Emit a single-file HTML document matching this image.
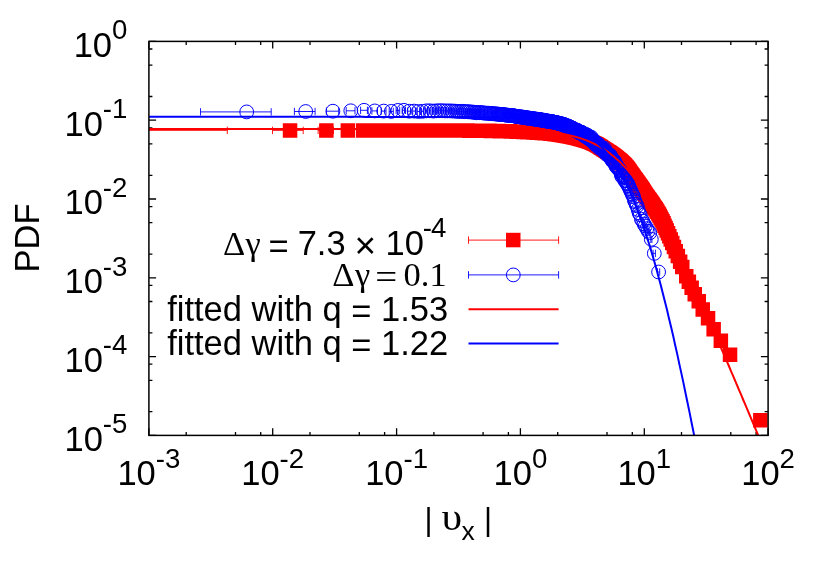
<!DOCTYPE html>
<html lang="en"><head><meta charset="utf-8"><title>PDF</title>
<style>html,body{margin:0;padding:0;background:#fff}svg{display:block}text{font-family:"Liberation Sans",sans-serif;fill:#000}.s{font-family:"Liberation Serif",serif}</style></head><body>
<svg style="will-change:transform" width="830" height="581" viewBox="0 0 830 581">
<rect width="830" height="581" fill="#fff"/>
<path d="M148.9 435.4V428.2 M148.9 41.4V48.6 M148.9 41.4H156.1 M768.1 41.4H760.9 M186.2 435.4V431.9 M186.2 41.4V44.9 M148.9 96.5H152.4 M768.1 96.5H764.6 M235.5 435.4V431.9 M235.5 41.4V44.9 M148.9 65.1H152.4 M768.1 65.1H764.6 M260.7 435.4V431.9 M260.7 41.4V44.9 M148.9 49H152.4 M768.1 49H764.6 M272.7 435.4V428.2 M272.7 41.4V48.6 M148.9 120.2H156.1 M768.1 120.2H760.9 M310 435.4V431.9 M310 41.4V44.9 M148.9 175.3H152.4 M768.1 175.3H764.6 M359.3 435.4V431.9 M359.3 41.4V44.9 M148.9 143.9H152.4 M768.1 143.9H764.6 M384.6 435.4V431.9 M384.6 41.4V44.9 M148.9 127.8H152.4 M768.1 127.8H764.6 M396.6 435.4V428.2 M396.6 41.4V48.6 M148.9 199H156.1 M768.1 199H760.9 M433.9 435.4V431.9 M433.9 41.4V44.9 M148.9 254.1H152.4 M768.1 254.1H764.6 M483.1 435.4V431.9 M483.1 41.4V44.9 M148.9 222.7H152.4 M768.1 222.7H764.6 M508.4 435.4V431.9 M508.4 41.4V44.9 M148.9 206.6H152.4 M768.1 206.6H764.6 M520.4 435.4V428.2 M520.4 41.4V48.6 M148.9 277.8H156.1 M768.1 277.8H760.9 M557.7 435.4V431.9 M557.7 41.4V44.9 M148.9 332.9H152.4 M768.1 332.9H764.6 M607 435.4V431.9 M607 41.4V44.9 M148.9 301.5H152.4 M768.1 301.5H764.6 M632.3 435.4V431.9 M632.3 41.4V44.9 M148.9 285.4H152.4 M768.1 285.4H764.6 M644.3 435.4V428.2 M644.3 41.4V48.6 M148.9 356.6H156.1 M768.1 356.6H760.9 M681.5 435.4V431.9 M681.5 41.4V44.9 M148.9 411.7H152.4 M768.1 411.7H764.6 M730.8 435.4V431.9 M730.8 41.4V44.9 M148.9 380.3H152.4 M768.1 380.3H764.6 M756.1 435.4V431.9 M756.1 41.4V44.9 M148.9 364.2H152.4 M768.1 364.2H764.6 M768.1 435.4V428.2 M768.1 41.4V48.6 M148.9 435.4H156.1 M768.1 435.4H760.9" stroke="#000" stroke-width="1.3" fill="none"/>
<clipPath id="c"><rect x="148.9" y="41.4" width="619.2" height="394"/></clipPath>
<path d="M148.9 130.4H227.3 M227.3 126.7V134.1 M272.5 130.4H303.2 M272.5 126.7V134.1 M303.2 126.7V134.1 M318.1 130.4H333.5 M318.1 126.7V134.1 M333.5 126.7V134.1" stroke="#f00" stroke-width="0.9" fill="none"/>
<path d="M282.8 123.2h14.5v14.5h-14.5zM319.1 123.2h14.5v14.5h-14.5zM340.6 123.2h14.5v14.5h-14.5zM355.9 123.2h14.5v14.5h-14.5zM367.8 123.2h14.5v14.5h-14.5zM377.5 123.2h14.5v14.5h-14.5zM385.8 123.2h14.5v14.5h-14.5zM392.9 123.2h14.5v14.5h-14.5zM399.2 123.2h14.5v14.5h-14.5zM404.9 123.2h14.5v14.5h-14.5zM410 123.2h14.5v14.5h-14.5zM414.6 123.2h14.5v14.5h-14.5zM418.9 123.2h14.5v14.5h-14.5zM422.9 123.2h14.5v14.5h-14.5zM426.6 123.2h14.5v14.5h-14.5zM430.1 123.2h14.5v14.5h-14.5zM433.3 123.2h14.5v14.5h-14.5zM436.4 123.2h14.5v14.5h-14.5zM439.3 123.2h14.5v14.5h-14.5zM442 123.2h14.5v14.5h-14.5zM444.7 123.2h14.5v14.5h-14.5zM447.2 123.2h14.5v14.5h-14.5zM449.6 123.2h14.5v14.5h-14.5zM451.9 123.2h14.5v14.5h-14.5zM454 123.3h14.5v14.5h-14.5zM456.2 123.3h14.5v14.5h-14.5zM458.2 123.3h14.5v14.5h-14.5zM460.2 123.3h14.5v14.5h-14.5zM462.1 123.4h14.5v14.5h-14.5zM463.9 123.4h14.5v14.5h-14.5zM465.7 123.4h14.5v14.5h-14.5zM467.4 123.4h14.5v14.5h-14.5zM469 123.4h14.5v14.5h-14.5zM470.7 123.5h14.5v14.5h-14.5zM472.2 123.5h14.5v14.5h-14.5zM473.8 123.5h14.5v14.5h-14.5zM475.2 123.5h14.5v14.5h-14.5zM476.7 123.6h14.5v14.5h-14.5zM478.1 123.6h14.5v14.5h-14.5zM479.5 123.6h14.5v14.5h-14.5zM480.8 123.6h14.5v14.5h-14.5zM482.1 123.6h14.5v14.5h-14.5zM483.4 123.7h14.5v14.5h-14.5zM484.6 123.7h14.5v14.5h-14.5zM485.9 123.7h14.5v14.5h-14.5zM487.1 123.7h14.5v14.5h-14.5zM488.2 123.8h14.5v14.5h-14.5zM489.4 123.8h14.5v14.5h-14.5zM490.5 123.8h14.5v14.5h-14.5zM491.6 123.8h14.5v14.5h-14.5zM492.7 123.9h14.5v14.5h-14.5zM493.8 123.9h14.5v14.5h-14.5zM494.8 123.9h14.5v14.5h-14.5zM495.8 123.9h14.5v14.5h-14.5zM496.8 124h14.5v14.5h-14.5zM497.8 124h14.5v14.5h-14.5zM498.8 124h14.5v14.5h-14.5zM499.7 124h14.5v14.5h-14.5zM500.7 124.1h14.5v14.5h-14.5zM501.6 124.1h14.5v14.5h-14.5zM502.5 124.1h14.5v14.5h-14.5zM503.4 124.2h14.5v14.5h-14.5zM504.3 124.2h14.5v14.5h-14.5zM505.1 124.2h14.5v14.5h-14.5zM506 124.3h14.5v14.5h-14.5zM506.8 124.3h14.5v14.5h-14.5zM507.7 124.3h14.5v14.5h-14.5zM508.5 124.3h14.5v14.5h-14.5zM509.3 124.4h14.5v14.5h-14.5zM510.1 124.4h14.5v14.5h-14.5zM510.9 124.4h14.5v14.5h-14.5zM511.6 124.5h14.5v14.5h-14.5zM512.4 124.5h14.5v14.5h-14.5zM513.2 124.5h14.5v14.5h-14.5zM513.9 124.6h14.5v14.5h-14.5zM514.6 124.6h14.5v14.5h-14.5zM515.4 124.6h14.5v14.5h-14.5zM516.1 124.7h14.5v14.5h-14.5zM516.8 124.7h14.5v14.5h-14.5zM517.5 124.7h14.5v14.5h-14.5zM518.2 124.8h14.5v14.5h-14.5zM518.9 124.8h14.5v14.5h-14.5zM519.5 124.8h14.5v14.5h-14.5zM520.2 124.9h14.5v14.5h-14.5zM520.9 124.9h14.5v14.5h-14.5zM521.5 124.9h14.5v14.5h-14.5zM522.2 125h14.5v14.5h-14.5zM522.8 125h14.5v14.5h-14.5zM523.4 125h14.5v14.5h-14.5zM524 125.1h14.5v14.5h-14.5zM524.7 125.1h14.5v14.5h-14.5zM525.3 125.1h14.5v14.5h-14.5zM525.9 125.2h14.5v14.5h-14.5zM526.5 125.2h14.5v14.5h-14.5zM527.1 125.2h14.5v14.5h-14.5zM527.7 125.3h14.5v14.5h-14.5zM528.2 125.3h14.5v14.5h-14.5zM528.8 125.3h14.5v14.5h-14.5zM529.4 125.4h14.5v14.5h-14.5zM530 125.4h14.5v14.5h-14.5zM530.5 125.4h14.5v14.5h-14.5zM531.1 125.5h14.5v14.5h-14.5zM531.6 125.5h14.5v14.5h-14.5zM532.2 125.5h14.5v14.5h-14.5zM532.7 125.6h14.5v14.5h-14.5zM533.3 125.6h14.5v14.5h-14.5zM533.8 125.6h14.5v14.5h-14.5zM534.3 125.7h14.5v14.5h-14.5zM534.8 125.7h14.5v14.5h-14.5zM535.3 125.7h14.5v14.5h-14.5zM535.9 125.8h14.5v14.5h-14.5zM536.4 125.8h14.5v14.5h-14.5zM536.9 125.8h14.5v14.5h-14.5zM537.4 125.9h14.5v14.5h-14.5zM537.9 125.9h14.5v14.5h-14.5zM538.4 125.9h14.5v14.5h-14.5zM538.9 126h14.5v14.5h-14.5zM539.3 126h14.5v14.5h-14.5zM539.8 126h14.5v14.5h-14.5zM540.3 126.1h14.5v14.5h-14.5zM540.8 126.1h14.5v14.5h-14.5zM541.2 126.1h14.5v14.5h-14.5zM541.7 126.2h14.5v14.5h-14.5zM542.2 126.2h14.5v14.5h-14.5zM542.6 126.3h14.5v14.5h-14.5zM543.1 126.3h14.5v14.5h-14.5zM543.5 126.4h14.5v14.5h-14.5zM544 126.4h14.5v14.5h-14.5zM544.4 126.4h14.5v14.5h-14.5zM544.9 126.5h14.5v14.5h-14.5zM545.3 126.5h14.5v14.5h-14.5zM545.8 126.6h14.5v14.5h-14.5zM546.2 126.6h14.5v14.5h-14.5zM546.6 126.7h14.5v14.5h-14.5zM547.1 126.8h14.5v14.5h-14.5zM547.5 126.8h14.5v14.5h-14.5zM547.9 126.9h14.5v14.5h-14.5zM548.3 126.9h14.5v14.5h-14.5zM548.7 127h14.5v14.5h-14.5zM549.2 127h14.5v14.5h-14.5zM549.6 127.1h14.5v14.5h-14.5zM550 127.1h14.5v14.5h-14.5zM550.4 127.2h14.5v14.5h-14.5zM550.8 127.3h14.5v14.5h-14.5zM551.2 127.3h14.5v14.5h-14.5zM551.6 127.4h14.5v14.5h-14.5zM552 127.4h14.5v14.5h-14.5zM552.4 127.5h14.5v14.5h-14.5zM552.8 127.6h14.5v14.5h-14.5zM553.6 127.7h14.5v14.5h-14.5zM554.4 127.8h14.5v14.5h-14.5zM555.1 127.9h14.5v14.5h-14.5zM555.9 128.1h14.5v14.5h-14.5zM556.7 128.2h14.5v14.5h-14.5zM557.4 128.3h14.5v14.5h-14.5zM558.1 128.4h14.5v14.5h-14.5zM558.9 128.6h14.5v14.5h-14.5zM559.6 128.7h14.5v14.5h-14.5zM560.3 128.8h14.5v14.5h-14.5zM561 128.9h14.5v14.5h-14.5zM561.7 129.1h14.5v14.5h-14.5zM562.4 129.2h14.5v14.5h-14.5zM563.1 129.3h14.5v14.5h-14.5zM563.8 129.5h14.5v14.5h-14.5zM564.5 129.6h14.5v14.5h-14.5zM565.2 129.7h14.5v14.5h-14.5zM565.9 129.9h14.5v14.5h-14.5zM566.5 130h14.5v14.5h-14.5zM567.2 130.2h14.5v14.5h-14.5zM567.8 130.3h14.5v14.5h-14.5zM568.5 130.5h14.5v14.5h-14.5zM569.1 130.6h14.5v14.5h-14.5zM569.8 130.8h14.5v14.5h-14.5zM570.4 130.9h14.5v14.5h-14.5zM571 131.1h14.5v14.5h-14.5zM571.7 131.2h14.5v14.5h-14.5zM572.3 131.4h14.5v14.5h-14.5zM572.9 131.5h14.5v14.5h-14.5zM573.5 131.7h14.5v14.5h-14.5zM574.2 131.9h14.5v14.5h-14.5zM574.8 132h14.5v14.5h-14.5zM575.4 132.2h14.5v14.5h-14.5zM576 132.4h14.5v14.5h-14.5zM576.6 132.5h14.5v14.5h-14.5zM577.2 132.7h14.5v14.5h-14.5zM577.8 132.9h14.5v14.5h-14.5zM578.3 133.1h14.5v14.5h-14.5zM578.9 133.2h14.5v14.5h-14.5zM579.5 133.4h14.5v14.5h-14.5zM580.1 133.6h14.5v14.5h-14.5zM580.7 133.8h14.5v14.5h-14.5zM581.3 134h14.5v14.5h-14.5zM581.8 134.2h14.5v14.5h-14.5zM582.4 134.4h14.5v14.5h-14.5zM583 134.6h14.5v14.5h-14.5zM583.5 134.8h14.5v14.5h-14.5zM584.1 135h14.5v14.5h-14.5zM584.7 135.3h14.5v14.5h-14.5zM585.2 135.5h14.5v14.5h-14.5zM585.8 135.8h14.5v14.5h-14.5zM586.3 136h14.5v14.5h-14.5zM586.9 136.3h14.5v14.5h-14.5zM587.4 136.5h14.5v14.5h-14.5zM588 136.8h14.5v14.5h-14.5zM588.6 137h14.5v14.5h-14.5zM589.1 137.3h14.5v14.5h-14.5zM589.7 137.6h14.5v14.5h-14.5zM590.2 137.9h14.5v14.5h-14.5zM590.8 138.2h14.5v14.5h-14.5zM591.3 138.5h14.5v14.5h-14.5zM591.9 138.9h14.5v14.5h-14.5zM592.4 139.2h14.5v14.5h-14.5zM593 139.6h14.5v14.5h-14.5zM593.5 140h14.5v14.5h-14.5zM594.1 140.4h14.5v14.5h-14.5zM594.6 140.7h14.5v14.5h-14.5zM595.2 141.1h14.5v14.5h-14.5zM595.8 141.5h14.5v14.5h-14.5zM596.3 141.9h14.5v14.5h-14.5zM596.9 142.2h14.5v14.5h-14.5zM597.4 142.6h14.5v14.5h-14.5zM598 142.9h14.5v14.5h-14.5zM598.6 143.3h14.5v14.5h-14.5zM599.1 143.6h14.5v14.5h-14.5zM599.7 144h14.5v14.5h-14.5zM600.3 144.4h14.5v14.5h-14.5zM600.8 144.7h14.5v14.5h-14.5zM601.4 145.1h14.5v14.5h-14.5zM602 145.5h14.5v14.5h-14.5zM602.5 145.8h14.5v14.5h-14.5zM603.1 146.2h14.5v14.5h-14.5zM603.7 146.6h14.5v14.5h-14.5zM604.2 147h14.5v14.5h-14.5zM604.8 147.4h14.5v14.5h-14.5zM605.4 147.8h14.5v14.5h-14.5zM606 148.3h14.5v14.5h-14.5zM606.5 148.7h14.5v14.5h-14.5zM607.1 149.1h14.5v14.5h-14.5zM607.7 149.6h14.5v14.5h-14.5zM608.3 150h14.5v14.5h-14.5zM608.9 150.5h14.5v14.5h-14.5zM609.5 151h14.5v14.5h-14.5zM610.1 151.5h14.5v14.5h-14.5zM610.7 152h14.5v14.5h-14.5zM611.3 152.5h14.5v14.5h-14.5zM611.9 153h14.5v14.5h-14.5zM612.2 153.3h14.5v14.5h-14.5zM612.5 153.5h14.5v14.5h-14.5zM612.8 153.8h14.5v14.5h-14.5zM613.1 154.1h14.5v14.5h-14.5zM613.4 154.3h14.5v14.5h-14.5zM613.7 154.6h14.5v14.5h-14.5zM614 154.9h14.5v14.5h-14.5zM614.3 155.2h14.5v14.5h-14.5zM614.6 155.5h14.5v14.5h-14.5zM614.9 155.8h14.5v14.5h-14.5zM615.2 156.1h14.5v14.5h-14.5zM615.6 156.4h14.5v14.5h-14.5zM615.9 156.7h14.5v14.5h-14.5zM616.2 157h14.5v14.5h-14.5zM616.5 157.3h14.5v14.5h-14.5zM616.8 157.6h14.5v14.5h-14.5zM617.1 157.9h14.5v14.5h-14.5zM617.5 158.3h14.5v14.5h-14.5zM617.8 158.6h14.5v14.5h-14.5zM618.1 159h14.5v14.5h-14.5zM618.4 159.4h14.5v14.5h-14.5zM618.8 159.7h14.5v14.5h-14.5zM619.1 160.1h14.5v14.5h-14.5zM619.4 160.5h14.5v14.5h-14.5zM619.8 161h14.5v14.5h-14.5zM620.1 161.4h14.5v14.5h-14.5zM620.5 161.8h14.5v14.5h-14.5zM620.8 162.3h14.5v14.5h-14.5zM621.1 162.8h14.5v14.5h-14.5zM621.5 163.3h14.5v14.5h-14.5zM621.9 163.8h14.5v14.5h-14.5zM622.2 164.3h14.5v14.5h-14.5zM622.6 164.8h14.5v14.5h-14.5zM622.9 165.3h14.5v14.5h-14.5zM623.3 165.9h14.5v14.5h-14.5zM623.7 166.4h14.5v14.5h-14.5zM624.1 166.9h14.5v14.5h-14.5zM624.4 167.5h14.5v14.5h-14.5zM624.8 168.1h14.5v14.5h-14.5zM625.2 168.6h14.5v14.5h-14.5zM625.6 169.2h14.5v14.5h-14.5zM626 169.7h14.5v14.5h-14.5zM626.4 170.3h14.5v14.5h-14.5zM626.8 170.9h14.5v14.5h-14.5zM627.2 171.4h14.5v14.5h-14.5zM627.6 172h14.5v14.5h-14.5zM628 172.6h14.5v14.5h-14.5zM628.5 173.1h14.5v14.5h-14.5zM628.9 173.7h14.5v14.5h-14.5zM629.3 174.3h14.5v14.5h-14.5zM629.8 174.9h14.5v14.5h-14.5zM630.2 175.5h14.5v14.5h-14.5zM630.7 176.2h14.5v14.5h-14.5zM631.1 176.8h14.5v14.5h-14.5zM631.6 177.4h14.5v14.5h-14.5zM632 178.1h14.5v14.5h-14.5zM632.5 178.8h14.5v14.5h-14.5zM633 179.4h14.5v14.5h-14.5zM633.5 180.1h14.5v14.5h-14.5zM634 180.9h14.5v14.5h-14.5zM634.5 181.6h14.5v14.5h-14.5zM635 182.3h14.5v14.5h-14.5zM635.5 183.1h14.5v14.5h-14.5zM636 183.9h14.5v14.5h-14.5zM636.5 184.7h14.5v14.5h-14.5zM637.1 185.5h14.5v14.5h-14.5zM637.6 186.4h14.5v14.5h-14.5zM638.2 187.2h14.5v14.5h-14.5zM638.7 188h14.5v14.5h-14.5zM639.3 188.9h14.5v14.5h-14.5zM639.9 189.7h14.5v14.5h-14.5zM640.5 190.6h14.5v14.5h-14.5zM641.1 191.4h14.5v14.5h-14.5zM641.7 192.3h14.5v14.5h-14.5zM642.4 193.1h14.5v14.5h-14.5zM643 194h14.5v14.5h-14.5zM643.6 194.9h14.5v14.5h-14.5zM644.3 195.8h14.5v14.5h-14.5zM645 196.7h14.5v14.5h-14.5zM645.6 197.7h14.5v14.5h-14.5zM646.3 198.8h14.5v14.5h-14.5zM647 199.9h14.5v14.5h-14.5zM647.8 201h14.5v14.5h-14.5zM648.5 202.1h14.5v14.5h-14.5zM649.3 203.3h14.5v14.5h-14.5zM650.1 204.6h14.5v14.5h-14.5zM650.9 205.9h14.5v14.5h-14.5zM651.7 207.3h14.5v14.5h-14.5zM652.5 208.8h14.5v14.5h-14.5zM653.4 210.4h14.5v14.5h-14.5zM654.3 212.2h14.5v14.5h-14.5zM655.3 214.1h14.5v14.5h-14.5zM656.3 216.1h14.5v14.5h-14.5zM657.3 218.4h14.5v14.5h-14.5zM658.4 220.8h14.5v14.5h-14.5zM659.5 223.3h14.5v14.5h-14.5zM660.8 226h14.5v14.5h-14.5zM662.1 229h14.5v14.5h-14.5zM663.5 232.2h14.5v14.5h-14.5zM665 235.8h14.5v14.5h-14.5zM666.7 239.7h14.5v14.5h-14.5zM668.5 244h14.5v14.5h-14.5zM670.6 248.8h14.5v14.5h-14.5zM672.9 254.4h14.5v14.5h-14.5zM675 259.8h14.5v14.5h-14.5zM679 268.9h14.5v14.5h-14.5zM681.6 274.6h14.5v14.5h-14.5zM684.4 280.6h14.5v14.5h-14.5zM687.5 287.1h14.5v14.5h-14.5zM691.5 294.1h14.5v14.5h-14.5zM695.5 302.2h14.5v14.5h-14.5zM700.8 311.1h14.5v14.5h-14.5zM706.4 321.9h14.5v14.5h-14.5zM713.6 333.6h14.5v14.5h-14.5zM722.8 347.6h14.5v14.5h-14.5zM753.1 412.9h14.5v14.5h-14.5z" fill="#f00"/>
<path d="M200.5 111.9H271.2 M200.5 108.2V115.6 M271.2 108.2V115.6 M294.4 111.5H315.1 M294.4 107.8V115.2 M315.1 107.8V115.2 M326.4 111.2H338.7 M326.4 107.5V114.9 M338.7 107.5V114.9 M346.2 110.8H355 M346.2 107.1V114.5 M355 107.1V114.5 M360.6 110.3H367.4 M360.6 106.6V114 M367.4 106.6V114 M371.9 110.9H377.5 M371.9 107.2V114.6 M377.5 107.2V114.6 M381.2 111.1H386 M381.2 107.4V114.8 M386 107.4V114.8 M389.2 111.4H393.3 M389.2 107.7V115.1 M393.3 107.7V115.1 M396.1 110.4H399.7 M396.1 106.7V114.1 M399.7 106.7V114.1 M402.2 110.3H405.5 M402.2 106.6V114 M405.5 106.6V114 M407.7 111.2H410.7 M407.7 107.5V114.9 M410.7 107.5V114.9 M412.7 111.1H415.4 M412.7 107.4V114.8 M415.4 107.4V114.8 M417.3 111.5H419.8 M417.3 107.8V115.2 M419.8 107.8V115.2 M421.5 111.3H423.8 M421.5 107.6V115 M423.8 107.6V115 M425.4 110.8H427.5 M425.4 107.1V114.5 M427.5 107.1V114.5 M429 110.8H431 M429 107.1V114.5 M431 107.1V114.5 M432.4 111.1H434.3 M432.4 107.4V114.8 M434.3 107.4V114.8 M435.6 110.8H437.4 M435.6 107.1V114.5 M437.4 107.1V114.5 M438.7 110.7H440.3 M438.7 107V114.4 M440.3 107V114.4 M441.5 110.7H443.1 M441.5 107V114.4 M443.1 107V114.4 M444.2 110.9H445.7 M444.2 107.2V114.6 M445.7 107.2V114.6 M446.8 110.9H448.3 M446.8 107.2V114.6 M448.3 107.2V114.6 M449.3 110.9H450.7 M449.3 107.2V114.6 M450.7 107.2V114.6 M451.7 111H453 M451.7 107.3V114.7 M453 107.3V114.7 M453.9 111.1H455.2 M453.9 107.4V114.8 M455.2 107.4V114.8 M456.1 111.3H457.3 M456.1 107.6V115 M457.3 107.6V115 M458.2 111.4H459.4 M458.2 107.7V115.1 M459.4 107.7V115.1 M460.2 111.4H461.4 M460.2 107.7V115.1 M461.4 107.7V115.1 M462.2 111.3H463.3 M462.2 107.6V115 M463.3 107.6V115 M464.1 111.7H465.2 M464.1 108V115.4 M465.2 108V115.4 M465.9 111.6H467 M465.9 107.9V115.3 M467 107.9V115.3 M467.7 111.8H468.7 M467.7 108.1V115.5 M468.7 108.1V115.5 M469.4 111.8H470.4 M469.4 108.1V115.5 M470.4 108.1V115.5 M471.1 112.1H472.1 M471.1 108.4V115.8 M472.1 108.4V115.8 M472.8 112.1H473.7 M472.8 108.4V115.8 M473.7 108.4V115.8 M474.4 112.3H475.3 M474.4 108.6V116 M475.3 108.6V116 M475.9 112.8H476.8 M475.9 109.1V116.5 M476.8 109.1V116.5 M477.4 112.5H478.3 M477.4 108.8V116.2 M478.3 108.8V116.2 M478.9 112.7H479.7 M478.9 109V116.4 M479.7 109V116.4 M480.3 112.6H481.1 M480.3 108.9V116.3 M481.1 108.9V116.3 M482.1 109.1V116.5 M483.5 109.3V116.7 M484.8 109.3V116.7 M486.1 109.5V116.9 M487.4 109.5V116.9 M488.7 109.5V116.9 M489.9 109.8V117.2 M491.1 109.7V117.1 M492.3 110.1V117.5 M493.4 109.9V117.3 M494.6 110.2V117.6 M495.7 110.2V117.6 M496.8 110.4V117.8 M497.8 110.3V117.7 M498.9 110.6V118 M499.9 110.6V118 M501 110.8V118.2 M502 110.9V118.3 M503 110.9V118.3 M503.9 110.9V118.3 M504.9 111.2V118.6 M505.8 111.3V118.7 M506.8 111.5V118.9 M507.7 111.4V118.8 M508.6 111.6V119 M509.5 111.7V119.1 M510.4 111.8V119.2 M511.3 111.9V119.3 M512.1 112V119.4 M513 112V119.4 M513.8 112.1V119.5 M514.6 112.3V119.7 M515.5 112.5V119.9 M516.3 112.7V120.1 M517.1 112.8V120.2 M517.9 112.9V120.3 M518.6 113V120.4 M519.4 113.1V120.5 M520.2 113.1V120.5 M520.9 113.3V120.7 M521.7 113.5V120.9 M522.4 113.4V120.8 M523.1 113.4V120.8 M523.9 113.9V121.3 M524.6 113.8V121.2 M525.3 114V121.4 M526 114V121.4 M526.7 113.9V121.3 M527.4 114.4V121.8 M528 114.5V121.9 M528.7 114.4V121.8 M529.4 114.5V121.9 M530 114.6V122 M530.7 114.5V121.9 M531.3 114.7V122.1 M532 114.9V122.3 M532.6 115.1V122.5 M533.2 115.1V122.5 M533.9 115.1V122.5 M534.5 115.4V122.8 M535.1 115.2V122.6 M535.7 115.5V122.9 M536.3 115.7V123.1 M536.9 115.6V123 M537.5 115.5V122.9 M538.1 115.7V123.1 M538.7 115.9V123.3 M539.2 116V123.4 M539.8 116.3V123.7 M540.4 116V123.4 M540.9 116.2V123.6 M541.5 116.4V123.8 M542.1 116.4V123.8 M542.6 116.2V123.6 M543.2 116.7V124.1 M543.7 117V124.4 M544.2 116.9V124.3 M544.8 116.7V124.1 M545.3 116.9V124.3 M545.8 117V124.4 M546.3 117.4V124.8 M546.9 117.3V124.7 M547.4 117.3V124.7 M547.9 117.6V125 M548.4 117.4V124.8 M548.9 117.8V125.2 M549.4 117.5V124.9 M549.9 117.6V125 M550.4 117.9V125.3 M550.9 118.1V125.5 M551.4 118.1V125.5 M551.8 118.1V125.5 M552.3 117.9V125.3 M552.8 118.2V125.6 M553.3 118.3V125.7 M553.7 118.4V125.8 M554.2 118.6V126 M554.7 118.6V126 M555.1 118.8V126.2 M555.6 118.8V126.2 M556.1 118.9V126.3 M556.5 119.1V126.5 M557 119.2V126.6 M557.4 119.4V126.8 M557.9 119.3V126.7 M558.3 119.4V126.8 M558.8 119.4V126.8 M559.2 119.9V127.3 M559.6 120V127.4 M560.1 119.9V127.3 M560.5 120V127.4 M560.9 120V127.4 M561.4 120.3V127.7 M561.8 120.5V127.9 M562.2 120.9V128.3 M562.6 120.7V128.1 M563.1 120.7V128.1 M563.5 120.5V127.9 M563.9 121.4V128.8 M564.3 121.3V128.7 M564.7 121.1V128.5 M565.1 121.6V129 M565.6 121.4V128.8 M566 122.7V130.1 M566.4 122.3V129.7 M566.8 122.4V129.8 M567.2 122.4V129.8 M567.6 122.1V129.5 M568 122.8V130.2 M568.4 122.6V130 M568.8 123.3V130.7 M569.2 122.8V130.2 M569.6 123.3V130.7 M570 124.1V131.5 M570.4 124.4V131.8 M570.8 123.7V131.1 M571.2 123.8V131.2 M571.6 124.8V132.2 M572 125V132.4 M572.4 124.5V131.9 M572.8 124.8V132.2 M573.2 125V132.4 M573.6 125V132.4 M574 125.4V132.8 M574.4 126.3V133.7 M574.8 126.3V133.7 M575.2 127.1V134.5 M575.5 126.4V133.8 M575.9 126.6V134 M576.3 126.4V133.8 M576.7 127V134.4 M577.1 126.7V134.1 M577.5 126.6V134 M577.9 128V135.4 M578.2 128.6V136 M578.6 128.5V135.9 M579 129V136.4 M579.4 128.6V136 M579.8 128.3V135.7 M580.2 128.9V136.3 M580.5 128.9V136.3 M580.9 128.6V136 M581.3 128.4V135.8 M581.7 128.8V136.2 M582.1 129.9V137.3 M582.4 130.2V137.6 M582.8 130V137.4 M583.2 131.5V138.9 M583.6 130.9V138.3 M583.9 131.4V138.8 M584.3 132.1V139.5 M584.7 130.8V138.2 M585.1 130.2V137.6 M585.4 132.5V139.9 M585.8 131.6V139 M586.2 133.4V140.8 M586.6 132.9V140.3 M586.9 133.7V141.1 M587.3 133.7V141.1 M587.7 131.5V138.9 M588.1 134.2V141.6 M588.4 133.2V140.6 M588.8 133.4V140.8 M589.2 133.9V141.3 M589.6 135.3V142.7 M589.9 135.7V143.1 M590.3 136.1V143.5 M590.7 133.8V141.2 M591.1 135.1V142.5 M591.4 133.6V141 M591.8 136.1V143.5 M592.2 137.1V144.5 M592.5 136V143.4 M592.9 137.4V144.8 M593.3 137.7V145.1 M593.7 138.8V146.2 M594.1 137.2V144.6 M594.4 137.5V144.9 M594.8 137.8V145.2 M595.2 140.9V148.3 M595.6 140.6V148 M595.9 139.5V146.9 M596.3 140.3V147.7 M596.7 140.5V147.9 M597.1 140.9V148.3 M597.5 140.8V148.2 M597.9 141V148.4 M598.2 140.2V147.6 M598.6 141.3V148.7 M599 144.3V151.7 M599.4 143.4V150.8 M599.8 143.2V150.6 M600.2 143.2V150.6 M600.6 143.9V151.3 M601 144.6V152 M601.4 143.8V151.2 M601.7 145.1V152.5 M602.1 145.5V152.9 M602.5 144.7V152.1 M602.9 145V152.4 M603.3 145.1V152.5 M603.7 145.4V152.8 M604.1 148.1V155.5 M604.5 144.6V152 M604.9 147.5V154.9 M605.3 147.4V154.8 M605.7 147.8V155.2 M606.1 149V156.4 M606.5 150.6V158 M606.9 149.8V157.2 M607.3 150V157.4 M607.8 149.8V157.2 M608.2 150.8V158.2 M608.6 152.4V159.8 M609 151.4V158.8 M609.4 151V158.4 M609.8 151.4V158.8 M610.2 152V159.4 M610.7 152.2V159.6 M611.1 155.3V162.7 M611.5 155.1V162.5 M611.9 155V162.4 M612.4 157.3V164.7 M612.8 155.7V163.1 M613.2 157.7V165.1 M613.7 158.4V165.8 M614.1 156.8V164.2 M614.6 157.6V165 M615 158.9V166.3 M615.5 161.4V168.8 M616 162.5V169.9 M616.4 161V168.4 M616.9 163.8V171.2 M617.4 163.3V170.7 M617.9 164.1V171.5 M618.4 164.8V172.2 M618.9 165.8V173.2 M619.4 165.4V172.8 M619.9 166.8V174.2 M620.4 167.5V174.9 M621 169.6V177 M621.5 171.7V179.1 M622 173V180.4 M622.6 171.5V178.9 M623.1 171.4V178.8 M623.7 173.3V180.7 M624.3 173.9V181.3 M624.8 176.9V184.3 M625.4 176.9V184.3 M626 177.1V184.5 M626.6 179.4V186.8 M627.3 180.3V187.7 M627.9 180.1V187.5 M628.5 182.1V189.5 M629.2 183.6V191 M629.9 185.2V192.6 M630.6 186.8V194.2 M631.3 188.1V195.5 M632 190.1V197.5 M632.8 191.4V198.8 M633.6 193.2V200.6 M634.4 196.7V204.1 M635.2 198.2V205.6 M636.1 200.7V208.1 M637.1 202.2V209.6 M638.1 205.8V213.2 M639.1 209.3V216.7 M640.2 211.1V218.5 M641.4 215.6V223 M642.7 217.4V224.8 M643.6 224H644.4 M643.6 220.3V227.7 M644.4 220.3V227.7 M644.9 226H645.8 M644.9 222.3V229.7 M645.8 222.3V229.7 M646.3 228.6H647.2 M646.3 224.9V232.3 M647.2 224.9V232.3 M647.8 231.2H648.7 M647.8 227.5V234.9 M648.7 227.5V234.9 M649.3 232.8H650.2 M649.3 229.1V236.5 M650.2 229.1V236.5 M650.8 239.3H651.9 M650.8 235.6V243 M651.9 235.6V243 M653.1 253.4H655.4 M653.1 249.7V257.1 M655.4 249.7V257.1 M657.5 272H659.7 M657.5 268.3V275.7 M659.7 268.3V275.7" stroke="#00f" stroke-width="0.9" fill="none"/>
<path d="M239.8 111.9a6.9 6.9 0 1 0 13.8 0a6.9 6.9 0 1 0 -13.8 0M298.8 111.5a6.9 6.9 0 1 0 13.8 0a6.9 6.9 0 1 0 -13.8 0M326 111.2a6.9 6.9 0 1 0 13.8 0a6.9 6.9 0 1 0 -13.8 0M343.9 110.8a6.9 6.9 0 1 0 13.8 0a6.9 6.9 0 1 0 -13.8 0M357.2 110.3a6.9 6.9 0 1 0 13.8 0a6.9 6.9 0 1 0 -13.8 0M367.9 110.9a6.9 6.9 0 1 0 13.8 0a6.9 6.9 0 1 0 -13.8 0M376.8 111.1a6.9 6.9 0 1 0 13.8 0a6.9 6.9 0 1 0 -13.8 0M384.4 111.4a6.9 6.9 0 1 0 13.8 0a6.9 6.9 0 1 0 -13.8 0M391 110.4a6.9 6.9 0 1 0 13.8 0a6.9 6.9 0 1 0 -13.8 0M397 110.3a6.9 6.9 0 1 0 13.8 0a6.9 6.9 0 1 0 -13.8 0M402.3 111.2a6.9 6.9 0 1 0 13.8 0a6.9 6.9 0 1 0 -13.8 0M407.2 111.1a6.9 6.9 0 1 0 13.8 0a6.9 6.9 0 1 0 -13.8 0M411.6 111.5a6.9 6.9 0 1 0 13.8 0a6.9 6.9 0 1 0 -13.8 0M415.8 111.3a6.9 6.9 0 1 0 13.8 0a6.9 6.9 0 1 0 -13.8 0M419.6 110.8a6.9 6.9 0 1 0 13.8 0a6.9 6.9 0 1 0 -13.8 0M423.1 110.8a6.9 6.9 0 1 0 13.8 0a6.9 6.9 0 1 0 -13.8 0M426.5 111.1a6.9 6.9 0 1 0 13.8 0a6.9 6.9 0 1 0 -13.8 0M429.6 110.8a6.9 6.9 0 1 0 13.8 0a6.9 6.9 0 1 0 -13.8 0M432.6 110.7a6.9 6.9 0 1 0 13.8 0a6.9 6.9 0 1 0 -13.8 0M435.4 110.7a6.9 6.9 0 1 0 13.8 0a6.9 6.9 0 1 0 -13.8 0M438.1 110.9a6.9 6.9 0 1 0 13.8 0a6.9 6.9 0 1 0 -13.8 0M440.6 110.9a6.9 6.9 0 1 0 13.8 0a6.9 6.9 0 1 0 -13.8 0M443.1 110.9a6.9 6.9 0 1 0 13.8 0a6.9 6.9 0 1 0 -13.8 0M445.4 111a6.9 6.9 0 1 0 13.8 0a6.9 6.9 0 1 0 -13.8 0M447.7 111.1a6.9 6.9 0 1 0 13.8 0a6.9 6.9 0 1 0 -13.8 0M449.8 111.3a6.9 6.9 0 1 0 13.8 0a6.9 6.9 0 1 0 -13.8 0M451.9 111.4a6.9 6.9 0 1 0 13.8 0a6.9 6.9 0 1 0 -13.8 0M453.9 111.4a6.9 6.9 0 1 0 13.8 0a6.9 6.9 0 1 0 -13.8 0M455.9 111.3a6.9 6.9 0 1 0 13.8 0a6.9 6.9 0 1 0 -13.8 0M457.7 111.7a6.9 6.9 0 1 0 13.8 0a6.9 6.9 0 1 0 -13.8 0M459.6 111.6a6.9 6.9 0 1 0 13.8 0a6.9 6.9 0 1 0 -13.8 0M461.3 111.8a6.9 6.9 0 1 0 13.8 0a6.9 6.9 0 1 0 -13.8 0M463 111.8a6.9 6.9 0 1 0 13.8 0a6.9 6.9 0 1 0 -13.8 0M464.7 112.1a6.9 6.9 0 1 0 13.8 0a6.9 6.9 0 1 0 -13.8 0M466.3 112.1a6.9 6.9 0 1 0 13.8 0a6.9 6.9 0 1 0 -13.8 0M467.9 112.3a6.9 6.9 0 1 0 13.8 0a6.9 6.9 0 1 0 -13.8 0M469.4 112.8a6.9 6.9 0 1 0 13.8 0a6.9 6.9 0 1 0 -13.8 0M470.9 112.5a6.9 6.9 0 1 0 13.8 0a6.9 6.9 0 1 0 -13.8 0M472.4 112.7a6.9 6.9 0 1 0 13.8 0a6.9 6.9 0 1 0 -13.8 0M473.8 112.6a6.9 6.9 0 1 0 13.8 0a6.9 6.9 0 1 0 -13.8 0M475.2 112.8a6.9 6.9 0 1 0 13.8 0a6.9 6.9 0 1 0 -13.8 0M476.6 113a6.9 6.9 0 1 0 13.8 0a6.9 6.9 0 1 0 -13.8 0M477.9 113a6.9 6.9 0 1 0 13.8 0a6.9 6.9 0 1 0 -13.8 0M479.2 113.2a6.9 6.9 0 1 0 13.8 0a6.9 6.9 0 1 0 -13.8 0M480.5 113.2a6.9 6.9 0 1 0 13.8 0a6.9 6.9 0 1 0 -13.8 0M481.8 113.2a6.9 6.9 0 1 0 13.8 0a6.9 6.9 0 1 0 -13.8 0M483 113.5a6.9 6.9 0 1 0 13.8 0a6.9 6.9 0 1 0 -13.8 0M484.2 113.4a6.9 6.9 0 1 0 13.8 0a6.9 6.9 0 1 0 -13.8 0M485.4 113.8a6.9 6.9 0 1 0 13.8 0a6.9 6.9 0 1 0 -13.8 0M486.5 113.6a6.9 6.9 0 1 0 13.8 0a6.9 6.9 0 1 0 -13.8 0M487.7 113.9a6.9 6.9 0 1 0 13.8 0a6.9 6.9 0 1 0 -13.8 0M488.8 113.9a6.9 6.9 0 1 0 13.8 0a6.9 6.9 0 1 0 -13.8 0M489.9 114.1a6.9 6.9 0 1 0 13.8 0a6.9 6.9 0 1 0 -13.8 0M490.9 114a6.9 6.9 0 1 0 13.8 0a6.9 6.9 0 1 0 -13.8 0M492 114.3a6.9 6.9 0 1 0 13.8 0a6.9 6.9 0 1 0 -13.8 0M493 114.3a6.9 6.9 0 1 0 13.8 0a6.9 6.9 0 1 0 -13.8 0M494.1 114.5a6.9 6.9 0 1 0 13.8 0a6.9 6.9 0 1 0 -13.8 0M495.1 114.6a6.9 6.9 0 1 0 13.8 0a6.9 6.9 0 1 0 -13.8 0M496.1 114.6a6.9 6.9 0 1 0 13.8 0a6.9 6.9 0 1 0 -13.8 0M497 114.6a6.9 6.9 0 1 0 13.8 0a6.9 6.9 0 1 0 -13.8 0M498 114.9a6.9 6.9 0 1 0 13.8 0a6.9 6.9 0 1 0 -13.8 0M498.9 115a6.9 6.9 0 1 0 13.8 0a6.9 6.9 0 1 0 -13.8 0M499.9 115.2a6.9 6.9 0 1 0 13.8 0a6.9 6.9 0 1 0 -13.8 0M500.8 115.1a6.9 6.9 0 1 0 13.8 0a6.9 6.9 0 1 0 -13.8 0M501.7 115.3a6.9 6.9 0 1 0 13.8 0a6.9 6.9 0 1 0 -13.8 0M502.6 115.4a6.9 6.9 0 1 0 13.8 0a6.9 6.9 0 1 0 -13.8 0M503.5 115.5a6.9 6.9 0 1 0 13.8 0a6.9 6.9 0 1 0 -13.8 0M504.4 115.6a6.9 6.9 0 1 0 13.8 0a6.9 6.9 0 1 0 -13.8 0M505.2 115.7a6.9 6.9 0 1 0 13.8 0a6.9 6.9 0 1 0 -13.8 0M506.1 115.7a6.9 6.9 0 1 0 13.8 0a6.9 6.9 0 1 0 -13.8 0M506.9 115.8a6.9 6.9 0 1 0 13.8 0a6.9 6.9 0 1 0 -13.8 0M507.7 116a6.9 6.9 0 1 0 13.8 0a6.9 6.9 0 1 0 -13.8 0M508.6 116.2a6.9 6.9 0 1 0 13.8 0a6.9 6.9 0 1 0 -13.8 0M509.4 116.4a6.9 6.9 0 1 0 13.8 0a6.9 6.9 0 1 0 -13.8 0M510.2 116.5a6.9 6.9 0 1 0 13.8 0a6.9 6.9 0 1 0 -13.8 0M511 116.6a6.9 6.9 0 1 0 13.8 0a6.9 6.9 0 1 0 -13.8 0M511.7 116.7a6.9 6.9 0 1 0 13.8 0a6.9 6.9 0 1 0 -13.8 0M512.5 116.8a6.9 6.9 0 1 0 13.8 0a6.9 6.9 0 1 0 -13.8 0M513.3 116.8a6.9 6.9 0 1 0 13.8 0a6.9 6.9 0 1 0 -13.8 0M514 117a6.9 6.9 0 1 0 13.8 0a6.9 6.9 0 1 0 -13.8 0M514.8 117.2a6.9 6.9 0 1 0 13.8 0a6.9 6.9 0 1 0 -13.8 0M515.5 117.1a6.9 6.9 0 1 0 13.8 0a6.9 6.9 0 1 0 -13.8 0M516.2 117.1a6.9 6.9 0 1 0 13.8 0a6.9 6.9 0 1 0 -13.8 0M517 117.6a6.9 6.9 0 1 0 13.8 0a6.9 6.9 0 1 0 -13.8 0M517.7 117.5a6.9 6.9 0 1 0 13.8 0a6.9 6.9 0 1 0 -13.8 0M518.4 117.7a6.9 6.9 0 1 0 13.8 0a6.9 6.9 0 1 0 -13.8 0M519.1 117.7a6.9 6.9 0 1 0 13.8 0a6.9 6.9 0 1 0 -13.8 0M519.8 117.6a6.9 6.9 0 1 0 13.8 0a6.9 6.9 0 1 0 -13.8 0M520.5 118.1a6.9 6.9 0 1 0 13.8 0a6.9 6.9 0 1 0 -13.8 0M521.1 118.2a6.9 6.9 0 1 0 13.8 0a6.9 6.9 0 1 0 -13.8 0M521.8 118.1a6.9 6.9 0 1 0 13.8 0a6.9 6.9 0 1 0 -13.8 0M522.5 118.2a6.9 6.9 0 1 0 13.8 0a6.9 6.9 0 1 0 -13.8 0M523.1 118.3a6.9 6.9 0 1 0 13.8 0a6.9 6.9 0 1 0 -13.8 0M523.8 118.2a6.9 6.9 0 1 0 13.8 0a6.9 6.9 0 1 0 -13.8 0M524.4 118.4a6.9 6.9 0 1 0 13.8 0a6.9 6.9 0 1 0 -13.8 0M525.1 118.6a6.9 6.9 0 1 0 13.8 0a6.9 6.9 0 1 0 -13.8 0M525.7 118.8a6.9 6.9 0 1 0 13.8 0a6.9 6.9 0 1 0 -13.8 0M526.3 118.8a6.9 6.9 0 1 0 13.8 0a6.9 6.9 0 1 0 -13.8 0M527 118.8a6.9 6.9 0 1 0 13.8 0a6.9 6.9 0 1 0 -13.8 0M527.6 119.1a6.9 6.9 0 1 0 13.8 0a6.9 6.9 0 1 0 -13.8 0M528.2 118.9a6.9 6.9 0 1 0 13.8 0a6.9 6.9 0 1 0 -13.8 0M528.8 119.2a6.9 6.9 0 1 0 13.8 0a6.9 6.9 0 1 0 -13.8 0M529.4 119.4a6.9 6.9 0 1 0 13.8 0a6.9 6.9 0 1 0 -13.8 0M530 119.3a6.9 6.9 0 1 0 13.8 0a6.9 6.9 0 1 0 -13.8 0M530.6 119.2a6.9 6.9 0 1 0 13.8 0a6.9 6.9 0 1 0 -13.8 0M531.2 119.4a6.9 6.9 0 1 0 13.8 0a6.9 6.9 0 1 0 -13.8 0M531.8 119.6a6.9 6.9 0 1 0 13.8 0a6.9 6.9 0 1 0 -13.8 0M532.3 119.7a6.9 6.9 0 1 0 13.8 0a6.9 6.9 0 1 0 -13.8 0M532.9 120a6.9 6.9 0 1 0 13.8 0a6.9 6.9 0 1 0 -13.8 0M533.5 119.7a6.9 6.9 0 1 0 13.8 0a6.9 6.9 0 1 0 -13.8 0M534 119.9a6.9 6.9 0 1 0 13.8 0a6.9 6.9 0 1 0 -13.8 0M534.6 120.1a6.9 6.9 0 1 0 13.8 0a6.9 6.9 0 1 0 -13.8 0M535.2 120.1a6.9 6.9 0 1 0 13.8 0a6.9 6.9 0 1 0 -13.8 0M535.7 119.9a6.9 6.9 0 1 0 13.8 0a6.9 6.9 0 1 0 -13.8 0M536.3 120.4a6.9 6.9 0 1 0 13.8 0a6.9 6.9 0 1 0 -13.8 0M536.8 120.7a6.9 6.9 0 1 0 13.8 0a6.9 6.9 0 1 0 -13.8 0M537.3 120.6a6.9 6.9 0 1 0 13.8 0a6.9 6.9 0 1 0 -13.8 0M537.9 120.4a6.9 6.9 0 1 0 13.8 0a6.9 6.9 0 1 0 -13.8 0M538.4 120.6a6.9 6.9 0 1 0 13.8 0a6.9 6.9 0 1 0 -13.8 0M538.9 120.7a6.9 6.9 0 1 0 13.8 0a6.9 6.9 0 1 0 -13.8 0M539.4 121.1a6.9 6.9 0 1 0 13.8 0a6.9 6.9 0 1 0 -13.8 0M540 121a6.9 6.9 0 1 0 13.8 0a6.9 6.9 0 1 0 -13.8 0M540.5 121a6.9 6.9 0 1 0 13.8 0a6.9 6.9 0 1 0 -13.8 0M541 121.3a6.9 6.9 0 1 0 13.8 0a6.9 6.9 0 1 0 -13.8 0M541.5 121.1a6.9 6.9 0 1 0 13.8 0a6.9 6.9 0 1 0 -13.8 0M542 121.5a6.9 6.9 0 1 0 13.8 0a6.9 6.9 0 1 0 -13.8 0M542.5 121.2a6.9 6.9 0 1 0 13.8 0a6.9 6.9 0 1 0 -13.8 0M543 121.3a6.9 6.9 0 1 0 13.8 0a6.9 6.9 0 1 0 -13.8 0M543.5 121.6a6.9 6.9 0 1 0 13.8 0a6.9 6.9 0 1 0 -13.8 0M544 121.8a6.9 6.9 0 1 0 13.8 0a6.9 6.9 0 1 0 -13.8 0M544.5 121.8a6.9 6.9 0 1 0 13.8 0a6.9 6.9 0 1 0 -13.8 0M544.9 121.8a6.9 6.9 0 1 0 13.8 0a6.9 6.9 0 1 0 -13.8 0M545.4 121.6a6.9 6.9 0 1 0 13.8 0a6.9 6.9 0 1 0 -13.8 0M545.9 121.9a6.9 6.9 0 1 0 13.8 0a6.9 6.9 0 1 0 -13.8 0M546.4 122a6.9 6.9 0 1 0 13.8 0a6.9 6.9 0 1 0 -13.8 0M546.8 122.1a6.9 6.9 0 1 0 13.8 0a6.9 6.9 0 1 0 -13.8 0M547.3 122.3a6.9 6.9 0 1 0 13.8 0a6.9 6.9 0 1 0 -13.8 0M547.8 122.3a6.9 6.9 0 1 0 13.8 0a6.9 6.9 0 1 0 -13.8 0M548.2 122.5a6.9 6.9 0 1 0 13.8 0a6.9 6.9 0 1 0 -13.8 0M548.7 122.5a6.9 6.9 0 1 0 13.8 0a6.9 6.9 0 1 0 -13.8 0M549.2 122.6a6.9 6.9 0 1 0 13.8 0a6.9 6.9 0 1 0 -13.8 0M549.6 122.8a6.9 6.9 0 1 0 13.8 0a6.9 6.9 0 1 0 -13.8 0M550.1 122.9a6.9 6.9 0 1 0 13.8 0a6.9 6.9 0 1 0 -13.8 0M550.5 123.1a6.9 6.9 0 1 0 13.8 0a6.9 6.9 0 1 0 -13.8 0M551 123a6.9 6.9 0 1 0 13.8 0a6.9 6.9 0 1 0 -13.8 0M551.4 123.1a6.9 6.9 0 1 0 13.8 0a6.9 6.9 0 1 0 -13.8 0M551.9 123.1a6.9 6.9 0 1 0 13.8 0a6.9 6.9 0 1 0 -13.8 0M552.3 123.6a6.9 6.9 0 1 0 13.8 0a6.9 6.9 0 1 0 -13.8 0M552.7 123.7a6.9 6.9 0 1 0 13.8 0a6.9 6.9 0 1 0 -13.8 0M553.2 123.6a6.9 6.9 0 1 0 13.8 0a6.9 6.9 0 1 0 -13.8 0M553.6 123.7a6.9 6.9 0 1 0 13.8 0a6.9 6.9 0 1 0 -13.8 0M554 123.7a6.9 6.9 0 1 0 13.8 0a6.9 6.9 0 1 0 -13.8 0M554.5 124a6.9 6.9 0 1 0 13.8 0a6.9 6.9 0 1 0 -13.8 0M554.9 124.2a6.9 6.9 0 1 0 13.8 0a6.9 6.9 0 1 0 -13.8 0M555.3 124.6a6.9 6.9 0 1 0 13.8 0a6.9 6.9 0 1 0 -13.8 0M555.7 124.4a6.9 6.9 0 1 0 13.8 0a6.9 6.9 0 1 0 -13.8 0M556.2 124.4a6.9 6.9 0 1 0 13.8 0a6.9 6.9 0 1 0 -13.8 0M556.6 124.2a6.9 6.9 0 1 0 13.8 0a6.9 6.9 0 1 0 -13.8 0M557 125.1a6.9 6.9 0 1 0 13.8 0a6.9 6.9 0 1 0 -13.8 0M557.4 125a6.9 6.9 0 1 0 13.8 0a6.9 6.9 0 1 0 -13.8 0M557.8 124.8a6.9 6.9 0 1 0 13.8 0a6.9 6.9 0 1 0 -13.8 0M558.2 125.3a6.9 6.9 0 1 0 13.8 0a6.9 6.9 0 1 0 -13.8 0M558.7 125.1a6.9 6.9 0 1 0 13.8 0a6.9 6.9 0 1 0 -13.8 0M559.1 126.4a6.9 6.9 0 1 0 13.8 0a6.9 6.9 0 1 0 -13.8 0M559.5 126a6.9 6.9 0 1 0 13.8 0a6.9 6.9 0 1 0 -13.8 0M559.9 126.1a6.9 6.9 0 1 0 13.8 0a6.9 6.9 0 1 0 -13.8 0M560.3 126.1a6.9 6.9 0 1 0 13.8 0a6.9 6.9 0 1 0 -13.8 0M560.7 125.8a6.9 6.9 0 1 0 13.8 0a6.9 6.9 0 1 0 -13.8 0M561.1 126.5a6.9 6.9 0 1 0 13.8 0a6.9 6.9 0 1 0 -13.8 0M561.5 126.3a6.9 6.9 0 1 0 13.8 0a6.9 6.9 0 1 0 -13.8 0M561.9 127a6.9 6.9 0 1 0 13.8 0a6.9 6.9 0 1 0 -13.8 0M562.3 126.5a6.9 6.9 0 1 0 13.8 0a6.9 6.9 0 1 0 -13.8 0M562.7 127a6.9 6.9 0 1 0 13.8 0a6.9 6.9 0 1 0 -13.8 0M563.1 127.8a6.9 6.9 0 1 0 13.8 0a6.9 6.9 0 1 0 -13.8 0M563.5 128.1a6.9 6.9 0 1 0 13.8 0a6.9 6.9 0 1 0 -13.8 0M563.9 127.4a6.9 6.9 0 1 0 13.8 0a6.9 6.9 0 1 0 -13.8 0M564.3 127.5a6.9 6.9 0 1 0 13.8 0a6.9 6.9 0 1 0 -13.8 0M564.7 128.5a6.9 6.9 0 1 0 13.8 0a6.9 6.9 0 1 0 -13.8 0M565.1 128.7a6.9 6.9 0 1 0 13.8 0a6.9 6.9 0 1 0 -13.8 0M565.5 128.2a6.9 6.9 0 1 0 13.8 0a6.9 6.9 0 1 0 -13.8 0M565.9 128.5a6.9 6.9 0 1 0 13.8 0a6.9 6.9 0 1 0 -13.8 0M566.3 128.7a6.9 6.9 0 1 0 13.8 0a6.9 6.9 0 1 0 -13.8 0M566.7 128.7a6.9 6.9 0 1 0 13.8 0a6.9 6.9 0 1 0 -13.8 0M567.1 129.1a6.9 6.9 0 1 0 13.8 0a6.9 6.9 0 1 0 -13.8 0M567.5 130a6.9 6.9 0 1 0 13.8 0a6.9 6.9 0 1 0 -13.8 0M567.9 130a6.9 6.9 0 1 0 13.8 0a6.9 6.9 0 1 0 -13.8 0M568.3 130.8a6.9 6.9 0 1 0 13.8 0a6.9 6.9 0 1 0 -13.8 0M568.6 130.1a6.9 6.9 0 1 0 13.8 0a6.9 6.9 0 1 0 -13.8 0M569 130.3a6.9 6.9 0 1 0 13.8 0a6.9 6.9 0 1 0 -13.8 0M569.4 130.1a6.9 6.9 0 1 0 13.8 0a6.9 6.9 0 1 0 -13.8 0M569.8 130.7a6.9 6.9 0 1 0 13.8 0a6.9 6.9 0 1 0 -13.8 0M570.2 130.4a6.9 6.9 0 1 0 13.8 0a6.9 6.9 0 1 0 -13.8 0M570.6 130.3a6.9 6.9 0 1 0 13.8 0a6.9 6.9 0 1 0 -13.8 0M571 131.7a6.9 6.9 0 1 0 13.8 0a6.9 6.9 0 1 0 -13.8 0M571.3 132.3a6.9 6.9 0 1 0 13.8 0a6.9 6.9 0 1 0 -13.8 0M571.7 132.2a6.9 6.9 0 1 0 13.8 0a6.9 6.9 0 1 0 -13.8 0M572.1 132.7a6.9 6.9 0 1 0 13.8 0a6.9 6.9 0 1 0 -13.8 0M572.5 132.3a6.9 6.9 0 1 0 13.8 0a6.9 6.9 0 1 0 -13.8 0M572.9 132a6.9 6.9 0 1 0 13.8 0a6.9 6.9 0 1 0 -13.8 0M573.3 132.6a6.9 6.9 0 1 0 13.8 0a6.9 6.9 0 1 0 -13.8 0M573.6 132.6a6.9 6.9 0 1 0 13.8 0a6.9 6.9 0 1 0 -13.8 0M574 132.3a6.9 6.9 0 1 0 13.8 0a6.9 6.9 0 1 0 -13.8 0M574.4 132.1a6.9 6.9 0 1 0 13.8 0a6.9 6.9 0 1 0 -13.8 0M574.8 132.5a6.9 6.9 0 1 0 13.8 0a6.9 6.9 0 1 0 -13.8 0M575.2 133.6a6.9 6.9 0 1 0 13.8 0a6.9 6.9 0 1 0 -13.8 0M575.5 133.9a6.9 6.9 0 1 0 13.8 0a6.9 6.9 0 1 0 -13.8 0M575.9 133.7a6.9 6.9 0 1 0 13.8 0a6.9 6.9 0 1 0 -13.8 0M576.3 135.2a6.9 6.9 0 1 0 13.8 0a6.9 6.9 0 1 0 -13.8 0M576.7 134.6a6.9 6.9 0 1 0 13.8 0a6.9 6.9 0 1 0 -13.8 0M577 135.1a6.9 6.9 0 1 0 13.8 0a6.9 6.9 0 1 0 -13.8 0M577.4 135.8a6.9 6.9 0 1 0 13.8 0a6.9 6.9 0 1 0 -13.8 0M577.8 134.5a6.9 6.9 0 1 0 13.8 0a6.9 6.9 0 1 0 -13.8 0M578.2 133.9a6.9 6.9 0 1 0 13.8 0a6.9 6.9 0 1 0 -13.8 0M578.5 136.2a6.9 6.9 0 1 0 13.8 0a6.9 6.9 0 1 0 -13.8 0M578.9 135.3a6.9 6.9 0 1 0 13.8 0a6.9 6.9 0 1 0 -13.8 0M579.3 137.1a6.9 6.9 0 1 0 13.8 0a6.9 6.9 0 1 0 -13.8 0M579.7 136.6a6.9 6.9 0 1 0 13.8 0a6.9 6.9 0 1 0 -13.8 0M580 137.4a6.9 6.9 0 1 0 13.8 0a6.9 6.9 0 1 0 -13.8 0M580.4 137.4a6.9 6.9 0 1 0 13.8 0a6.9 6.9 0 1 0 -13.8 0M580.8 135.2a6.9 6.9 0 1 0 13.8 0a6.9 6.9 0 1 0 -13.8 0M581.2 137.9a6.9 6.9 0 1 0 13.8 0a6.9 6.9 0 1 0 -13.8 0M581.5 136.9a6.9 6.9 0 1 0 13.8 0a6.9 6.9 0 1 0 -13.8 0M581.9 137.1a6.9 6.9 0 1 0 13.8 0a6.9 6.9 0 1 0 -13.8 0M582.3 137.6a6.9 6.9 0 1 0 13.8 0a6.9 6.9 0 1 0 -13.8 0M582.7 139a6.9 6.9 0 1 0 13.8 0a6.9 6.9 0 1 0 -13.8 0M583 139.4a6.9 6.9 0 1 0 13.8 0a6.9 6.9 0 1 0 -13.8 0M583.4 139.8a6.9 6.9 0 1 0 13.8 0a6.9 6.9 0 1 0 -13.8 0M583.8 137.5a6.9 6.9 0 1 0 13.8 0a6.9 6.9 0 1 0 -13.8 0M584.2 138.8a6.9 6.9 0 1 0 13.8 0a6.9 6.9 0 1 0 -13.8 0M584.5 137.3a6.9 6.9 0 1 0 13.8 0a6.9 6.9 0 1 0 -13.8 0M584.9 139.8a6.9 6.9 0 1 0 13.8 0a6.9 6.9 0 1 0 -13.8 0M585.3 140.8a6.9 6.9 0 1 0 13.8 0a6.9 6.9 0 1 0 -13.8 0M585.6 139.7a6.9 6.9 0 1 0 13.8 0a6.9 6.9 0 1 0 -13.8 0M586 141.1a6.9 6.9 0 1 0 13.8 0a6.9 6.9 0 1 0 -13.8 0M586.4 141.4a6.9 6.9 0 1 0 13.8 0a6.9 6.9 0 1 0 -13.8 0M586.8 142.5a6.9 6.9 0 1 0 13.8 0a6.9 6.9 0 1 0 -13.8 0M587.2 140.9a6.9 6.9 0 1 0 13.8 0a6.9 6.9 0 1 0 -13.8 0M587.5 141.2a6.9 6.9 0 1 0 13.8 0a6.9 6.9 0 1 0 -13.8 0M587.9 141.5a6.9 6.9 0 1 0 13.8 0a6.9 6.9 0 1 0 -13.8 0M588.3 144.6a6.9 6.9 0 1 0 13.8 0a6.9 6.9 0 1 0 -13.8 0M588.7 144.3a6.9 6.9 0 1 0 13.8 0a6.9 6.9 0 1 0 -13.8 0M589 143.2a6.9 6.9 0 1 0 13.8 0a6.9 6.9 0 1 0 -13.8 0M589.4 144a6.9 6.9 0 1 0 13.8 0a6.9 6.9 0 1 0 -13.8 0M589.8 144.2a6.9 6.9 0 1 0 13.8 0a6.9 6.9 0 1 0 -13.8 0M590.2 144.6a6.9 6.9 0 1 0 13.8 0a6.9 6.9 0 1 0 -13.8 0M590.6 144.5a6.9 6.9 0 1 0 13.8 0a6.9 6.9 0 1 0 -13.8 0M591 144.7a6.9 6.9 0 1 0 13.8 0a6.9 6.9 0 1 0 -13.8 0M591.3 143.9a6.9 6.9 0 1 0 13.8 0a6.9 6.9 0 1 0 -13.8 0M591.7 145a6.9 6.9 0 1 0 13.8 0a6.9 6.9 0 1 0 -13.8 0M592.1 148a6.9 6.9 0 1 0 13.8 0a6.9 6.9 0 1 0 -13.8 0M592.5 147.1a6.9 6.9 0 1 0 13.8 0a6.9 6.9 0 1 0 -13.8 0M592.9 146.9a6.9 6.9 0 1 0 13.8 0a6.9 6.9 0 1 0 -13.8 0M593.3 146.9a6.9 6.9 0 1 0 13.8 0a6.9 6.9 0 1 0 -13.8 0M593.7 147.6a6.9 6.9 0 1 0 13.8 0a6.9 6.9 0 1 0 -13.8 0M594.1 148.3a6.9 6.9 0 1 0 13.8 0a6.9 6.9 0 1 0 -13.8 0M594.5 147.5a6.9 6.9 0 1 0 13.8 0a6.9 6.9 0 1 0 -13.8 0M594.8 148.8a6.9 6.9 0 1 0 13.8 0a6.9 6.9 0 1 0 -13.8 0M595.2 149.2a6.9 6.9 0 1 0 13.8 0a6.9 6.9 0 1 0 -13.8 0M595.6 148.4a6.9 6.9 0 1 0 13.8 0a6.9 6.9 0 1 0 -13.8 0M596 148.7a6.9 6.9 0 1 0 13.8 0a6.9 6.9 0 1 0 -13.8 0M596.4 148.8a6.9 6.9 0 1 0 13.8 0a6.9 6.9 0 1 0 -13.8 0M596.8 149.1a6.9 6.9 0 1 0 13.8 0a6.9 6.9 0 1 0 -13.8 0M597.2 151.8a6.9 6.9 0 1 0 13.8 0a6.9 6.9 0 1 0 -13.8 0M597.6 148.3a6.9 6.9 0 1 0 13.8 0a6.9 6.9 0 1 0 -13.8 0M598 151.2a6.9 6.9 0 1 0 13.8 0a6.9 6.9 0 1 0 -13.8 0M598.4 151.1a6.9 6.9 0 1 0 13.8 0a6.9 6.9 0 1 0 -13.8 0M598.8 151.5a6.9 6.9 0 1 0 13.8 0a6.9 6.9 0 1 0 -13.8 0M599.2 152.7a6.9 6.9 0 1 0 13.8 0a6.9 6.9 0 1 0 -13.8 0M599.6 154.3a6.9 6.9 0 1 0 13.8 0a6.9 6.9 0 1 0 -13.8 0M600 153.5a6.9 6.9 0 1 0 13.8 0a6.9 6.9 0 1 0 -13.8 0M600.4 153.7a6.9 6.9 0 1 0 13.8 0a6.9 6.9 0 1 0 -13.8 0M600.9 153.5a6.9 6.9 0 1 0 13.8 0a6.9 6.9 0 1 0 -13.8 0M601.3 154.5a6.9 6.9 0 1 0 13.8 0a6.9 6.9 0 1 0 -13.8 0M601.7 156.1a6.9 6.9 0 1 0 13.8 0a6.9 6.9 0 1 0 -13.8 0M602.1 155.1a6.9 6.9 0 1 0 13.8 0a6.9 6.9 0 1 0 -13.8 0M602.5 154.7a6.9 6.9 0 1 0 13.8 0a6.9 6.9 0 1 0 -13.8 0M602.9 155.1a6.9 6.9 0 1 0 13.8 0a6.9 6.9 0 1 0 -13.8 0M603.3 155.7a6.9 6.9 0 1 0 13.8 0a6.9 6.9 0 1 0 -13.8 0M603.8 155.9a6.9 6.9 0 1 0 13.8 0a6.9 6.9 0 1 0 -13.8 0M604.2 159a6.9 6.9 0 1 0 13.8 0a6.9 6.9 0 1 0 -13.8 0M604.6 158.8a6.9 6.9 0 1 0 13.8 0a6.9 6.9 0 1 0 -13.8 0M605 158.7a6.9 6.9 0 1 0 13.8 0a6.9 6.9 0 1 0 -13.8 0M605.5 161a6.9 6.9 0 1 0 13.8 0a6.9 6.9 0 1 0 -13.8 0M605.9 159.4a6.9 6.9 0 1 0 13.8 0a6.9 6.9 0 1 0 -13.8 0M606.3 161.4a6.9 6.9 0 1 0 13.8 0a6.9 6.9 0 1 0 -13.8 0M606.8 162.1a6.9 6.9 0 1 0 13.8 0a6.9 6.9 0 1 0 -13.8 0M607.2 160.5a6.9 6.9 0 1 0 13.8 0a6.9 6.9 0 1 0 -13.8 0M607.7 161.3a6.9 6.9 0 1 0 13.8 0a6.9 6.9 0 1 0 -13.8 0M608.1 162.6a6.9 6.9 0 1 0 13.8 0a6.9 6.9 0 1 0 -13.8 0M608.6 165.1a6.9 6.9 0 1 0 13.8 0a6.9 6.9 0 1 0 -13.8 0M609.1 166.2a6.9 6.9 0 1 0 13.8 0a6.9 6.9 0 1 0 -13.8 0M609.5 164.7a6.9 6.9 0 1 0 13.8 0a6.9 6.9 0 1 0 -13.8 0M610 167.5a6.9 6.9 0 1 0 13.8 0a6.9 6.9 0 1 0 -13.8 0M610.5 167a6.9 6.9 0 1 0 13.8 0a6.9 6.9 0 1 0 -13.8 0M611 167.8a6.9 6.9 0 1 0 13.8 0a6.9 6.9 0 1 0 -13.8 0M611.5 168.5a6.9 6.9 0 1 0 13.8 0a6.9 6.9 0 1 0 -13.8 0M612 169.5a6.9 6.9 0 1 0 13.8 0a6.9 6.9 0 1 0 -13.8 0M612.5 169.1a6.9 6.9 0 1 0 13.8 0a6.9 6.9 0 1 0 -13.8 0M613 170.5a6.9 6.9 0 1 0 13.8 0a6.9 6.9 0 1 0 -13.8 0M613.5 171.2a6.9 6.9 0 1 0 13.8 0a6.9 6.9 0 1 0 -13.8 0M614.1 173.3a6.9 6.9 0 1 0 13.8 0a6.9 6.9 0 1 0 -13.8 0M614.6 175.4a6.9 6.9 0 1 0 13.8 0a6.9 6.9 0 1 0 -13.8 0M615.1 176.7a6.9 6.9 0 1 0 13.8 0a6.9 6.9 0 1 0 -13.8 0M615.7 175.2a6.9 6.9 0 1 0 13.8 0a6.9 6.9 0 1 0 -13.8 0M616.2 175.1a6.9 6.9 0 1 0 13.8 0a6.9 6.9 0 1 0 -13.8 0M616.8 177a6.9 6.9 0 1 0 13.8 0a6.9 6.9 0 1 0 -13.8 0M617.4 177.6a6.9 6.9 0 1 0 13.8 0a6.9 6.9 0 1 0 -13.8 0M617.9 180.6a6.9 6.9 0 1 0 13.8 0a6.9 6.9 0 1 0 -13.8 0M618.5 180.6a6.9 6.9 0 1 0 13.8 0a6.9 6.9 0 1 0 -13.8 0M619.1 180.8a6.9 6.9 0 1 0 13.8 0a6.9 6.9 0 1 0 -13.8 0M619.7 183.1a6.9 6.9 0 1 0 13.8 0a6.9 6.9 0 1 0 -13.8 0M620.4 184a6.9 6.9 0 1 0 13.8 0a6.9 6.9 0 1 0 -13.8 0M621 183.8a6.9 6.9 0 1 0 13.8 0a6.9 6.9 0 1 0 -13.8 0M621.6 185.8a6.9 6.9 0 1 0 13.8 0a6.9 6.9 0 1 0 -13.8 0M622.3 187.3a6.9 6.9 0 1 0 13.8 0a6.9 6.9 0 1 0 -13.8 0M623 188.9a6.9 6.9 0 1 0 13.8 0a6.9 6.9 0 1 0 -13.8 0M623.7 190.5a6.9 6.9 0 1 0 13.8 0a6.9 6.9 0 1 0 -13.8 0M624.4 191.8a6.9 6.9 0 1 0 13.8 0a6.9 6.9 0 1 0 -13.8 0M625.1 193.8a6.9 6.9 0 1 0 13.8 0a6.9 6.9 0 1 0 -13.8 0M625.9 195.1a6.9 6.9 0 1 0 13.8 0a6.9 6.9 0 1 0 -13.8 0M626.7 196.9a6.9 6.9 0 1 0 13.8 0a6.9 6.9 0 1 0 -13.8 0M627.5 200.4a6.9 6.9 0 1 0 13.8 0a6.9 6.9 0 1 0 -13.8 0M628.3 201.9a6.9 6.9 0 1 0 13.8 0a6.9 6.9 0 1 0 -13.8 0M629.2 204.4a6.9 6.9 0 1 0 13.8 0a6.9 6.9 0 1 0 -13.8 0M630.2 205.9a6.9 6.9 0 1 0 13.8 0a6.9 6.9 0 1 0 -13.8 0M631.2 209.5a6.9 6.9 0 1 0 13.8 0a6.9 6.9 0 1 0 -13.8 0M632.2 213a6.9 6.9 0 1 0 13.8 0a6.9 6.9 0 1 0 -13.8 0M633.3 214.8a6.9 6.9 0 1 0 13.8 0a6.9 6.9 0 1 0 -13.8 0M634.5 219.3a6.9 6.9 0 1 0 13.8 0a6.9 6.9 0 1 0 -13.8 0M635.8 221.1a6.9 6.9 0 1 0 13.8 0a6.9 6.9 0 1 0 -13.8 0M637.1 224a6.9 6.9 0 1 0 13.8 0a6.9 6.9 0 1 0 -13.8 0M638.4 226a6.9 6.9 0 1 0 13.8 0a6.9 6.9 0 1 0 -13.8 0M639.9 228.6a6.9 6.9 0 1 0 13.8 0a6.9 6.9 0 1 0 -13.8 0M641.3 231.2a6.9 6.9 0 1 0 13.8 0a6.9 6.9 0 1 0 -13.8 0M642.9 232.8a6.9 6.9 0 1 0 13.8 0a6.9 6.9 0 1 0 -13.8 0M644.4 239.3a6.9 6.9 0 1 0 13.8 0a6.9 6.9 0 1 0 -13.8 0M647.4 253.4a6.9 6.9 0 1 0 13.8 0a6.9 6.9 0 1 0 -13.8 0M651.7 272a6.9 6.9 0 1 0 13.8 0a6.9 6.9 0 1 0 -13.8 0" stroke="#00f" stroke-width="1" fill="none"/>
<path d="M148.9 129.1 L151 129.1 L153 129.1 L155.1 129.1 L157.2 129.1 L159.2 129.1 L161.3 129.1 L163.3 129.1 L165.4 129.1 L167.5 129.1 L169.5 129.1 L171.6 129.1 L173.7 129.1 L175.7 129.1 L177.8 129.1 L179.9 129.1 L181.9 129.1 L184 129.1 L186.1 129.1 L188.1 129.1 L190.2 129.1 L192.2 129.1 L194.3 129.1 L196.4 129.1 L198.4 129.1 L200.5 129.1 L202.6 129.1 L204.6 129.1 L206.7 129.1 L208.8 129.1 L210.8 129.1 L212.9 129.1 L214.9 129.1 L217 129.1 L219.1 129.1 L221.1 129.1 L223.2 129.1 L225.3 129.1 L227.3 129.1 L229.4 129.1 L231.5 129.1 L233.5 129.1 L235.6 129.1 L237.7 129.1 L239.7 129.1 L241.8 129.1 L243.8 129.1 L245.9 129.1 L248 129.1 L250 129.1 L252.1 129.1 L254.2 129.1 L256.2 129.1 L258.3 129.1 L260.4 129.1 L262.4 129.1 L264.5 129.1 L266.5 129.1 L268.6 129.1 L270.7 129.1 L272.7 129.1 L274.8 129.1 L276.9 129.1 L278.9 129.1 L281 129.1 L283.1 129.1 L285.1 129.1 L287.2 129.1 L289.3 129.1 L291.3 129.1 L293.4 129.1 L295.4 129.1 L297.5 129.1 L299.6 129.1 L301.6 129.1 L303.7 129.1 L305.8 129.1 L307.8 129.1 L309.9 129.1 L312 129.1 L314 129.1 L316.1 129.1 L318.1 129.1 L320.2 129.1 L322.3 129.1 L324.3 129.1 L326.4 129.1 L328.5 129.1 L330.5 129.1 L332.6 129.1 L334.7 129.1 L336.7 129.1 L338.8 129.1 L340.9 129.1 L342.9 129.1 L345 129.1 L347 129.1 L349.1 129.1 L351.2 129.1 L353.2 129.1 L355.3 129.1 L357.4 129.1 L359.4 129.1 L361.5 129.1 L363.6 129.1 L365.6 129.1 L367.7 129.1 L369.7 129.1 L371.8 129.1 L373.9 129.1 L375.9 129.1 L378 129.1 L380.1 129.1 L382.1 129.1 L384.2 129.1 L386.3 129.1 L388.3 129.1 L390.4 129.1 L392.5 129.1 L394.5 129.1 L396.6 129.1 L398.6 129.1 L400.7 129.1 L402.8 129.1 L404.8 129.1 L406.9 129.1 L409 129.1 L411 129.1 L413.1 129.1 L415.2 129.1 L417.2 129.1 L419.3 129.1 L421.3 129.1 L423.4 129.1 L425.5 129.1 L427.5 129.1 L429.6 129.1 L431.7 129.1 L433.7 129.1 L435.8 129.1 L437.9 129.1 L439.9 129.2 L442 129.2 L444.1 129.2 L446.1 129.2 L448.2 129.2 L450.2 129.2 L452.3 129.2 L454.4 129.2 L456.4 129.2 L458.5 129.2 L460.6 129.2 L462.6 129.2 L464.7 129.2 L466.8 129.2 L468.8 129.3 L470.9 129.3 L472.9 129.3 L475 129.3 L477.1 129.3 L479.1 129.3 L481.2 129.3 L483.3 129.4 L485.3 129.4 L487.4 129.4 L489.5 129.4 L491.5 129.5 L493.6 129.5 L495.7 129.5 L497.7 129.6 L499.8 129.6 L501.8 129.6 L503.9 129.7 L506 129.7 L508 129.8 L510.1 129.8 L512.2 129.9 L514.2 129.9 L516.3 130 L518.4 130.1 L520.4 130.2 L522.5 130.2 L524.5 130.3 L526.6 130.4 L528.7 130.5 L530.7 130.6 L532.8 130.8 L534.9 130.9 L536.9 131 L539 131.2 L541.1 131.3 L543.1 131.5 L545.2 131.7 L547.3 131.9 L549.3 132.1 L551.4 132.4 L553.4 132.6 L555.5 132.9 L557.6 133.2 L559.6 133.5 L561.7 133.8 L563.8 134.2 L565.8 134.6 L567.9 135 L570 135.5 L572 136 L574.1 136.5 L576.1 137 L578.2 137.6 L580.3 138.2 L582.3 138.9 L584.4 139.6 L586.5 140.4 L588.5 141.2 L590.6 142.1 L592.7 143.1 L594.7 144 L596.8 145.1 L598.9 146.2 L600.9 147.4 L603 148.7 L605 150 L607.1 151.4 L609.2 152.9 L611.2 154.5 L613.3 156.1 L615.4 157.9 L617.4 159.7 L619.5 161.6 L621.6 163.6 L623.6 165.7 L625.7 167.9 L627.7 170.2 L629.8 172.6 L631.9 175 L633.9 177.6 L636 180.3 L638.1 183 L640.1 185.9 L642.2 188.8 L644.3 191.9 L646.3 195 L648.4 198.2 L650.5 201.5 L652.5 204.9 L654.6 208.3 L656.6 211.9 L658.7 215.5 L660.8 219.2 L662.8 223 L664.9 226.8 L667 230.7 L669 234.6 L671.1 238.7 L673.2 242.7 L675.2 246.9 L677.3 251 L679.3 255.3 L681.4 259.6 L683.5 263.9 L685.5 268.2 L687.6 272.6 L689.7 277.1 L691.7 281.5 L693.8 286.1 L695.9 290.6 L697.9 295.1 L700 299.7 L702.1 304.4 L704.1 309 L706.2 313.7 L708.2 318.3 L710.3 323 L712.4 327.8 L714.4 332.5 L716.5 337.2 L718.6 342 L720.6 346.8 L722.7 351.6 L724.8 356.4 L726.8 361.2 L728.9 366 L730.9 370.9 L733 375.7 L735.1 380.6 L737.1 385.4 L739.2 390.3 L741.3 395.1 L743.3 400 L745.4 404.9 L747.5 409.8 L749.5 414.7 L751.6 419.6 L753.7 424.5 L755.7 429.4 L757.8 434.3 L759.8 439.2 L761.9 444.1" stroke="#f00" stroke-width="2" fill="none" clip-path="url(#c)"/>
<path d="M148.9 116.8 L151 116.8 L153 116.8 L155.1 116.8 L157.2 116.8 L159.2 116.8 L161.3 116.8 L163.3 116.8 L165.4 116.8 L167.5 116.8 L169.5 116.8 L171.6 116.8 L173.7 116.8 L175.7 116.8 L177.8 116.8 L179.9 116.8 L181.9 116.8 L184 116.8 L186.1 116.8 L188.1 116.8 L190.2 116.8 L192.2 116.8 L194.3 116.8 L196.4 116.8 L198.4 116.8 L200.5 116.8 L202.6 116.8 L204.6 116.8 L206.7 116.8 L208.8 116.8 L210.8 116.8 L212.9 116.8 L214.9 116.8 L217 116.8 L219.1 116.8 L221.1 116.8 L223.2 116.8 L225.3 116.8 L227.3 116.8 L229.4 116.8 L231.5 116.8 L233.5 116.8 L235.6 116.8 L237.7 116.8 L239.7 116.8 L241.8 116.8 L243.8 116.8 L245.9 116.8 L248 116.8 L250 116.8 L252.1 116.8 L254.2 116.8 L256.2 116.8 L258.3 116.8 L260.4 116.8 L262.4 116.8 L264.5 116.8 L266.5 116.8 L268.6 116.8 L270.7 116.8 L272.7 116.8 L274.8 116.8 L276.9 116.8 L278.9 116.8 L281 116.8 L283.1 116.8 L285.1 116.8 L287.2 116.8 L289.3 116.8 L291.3 116.8 L293.4 116.8 L295.4 116.8 L297.5 116.8 L299.6 116.8 L301.6 116.8 L303.7 116.8 L305.8 116.8 L307.8 116.8 L309.9 116.8 L312 116.8 L314 116.8 L316.1 116.8 L318.1 116.8 L320.2 116.8 L322.3 116.8 L324.3 116.8 L326.4 116.8 L328.5 116.8 L330.5 116.8 L332.6 116.8 L334.7 116.8 L336.7 116.8 L338.8 116.8 L340.9 116.8 L342.9 116.8 L345 116.8 L347 116.8 L349.1 116.8 L351.2 116.8 L353.2 116.8 L355.3 116.8 L357.4 116.8 L359.4 116.8 L361.5 116.8 L363.6 116.8 L365.6 116.9 L367.7 116.9 L369.7 116.9 L371.8 116.9 L373.9 116.9 L375.9 116.9 L378 116.9 L380.1 116.9 L382.1 116.9 L384.2 116.9 L386.3 116.9 L388.3 116.9 L390.4 116.9 L392.5 116.9 L394.5 116.9 L396.6 116.9 L398.6 116.9 L400.7 116.9 L402.8 116.9 L404.8 116.9 L406.9 116.9 L409 116.9 L411 116.9 L413.1 116.9 L415.2 116.9 L417.2 116.9 L419.3 116.9 L421.3 116.9 L423.4 116.9 L425.5 116.9 L427.5 116.9 L429.6 116.9 L431.7 116.9 L433.7 116.9 L435.8 116.9 L437.9 116.9 L439.9 116.9 L442 116.9 L444.1 116.9 L446.1 116.9 L448.2 117 L450.2 117 L452.3 117 L454.4 117 L456.4 117 L458.5 117 L460.6 117 L462.6 117 L464.7 117.1 L466.8 117.1 L468.8 117.1 L470.9 117.1 L472.9 117.1 L475 117.1 L477.1 117.2 L479.1 117.2 L481.2 117.2 L483.3 117.3 L485.3 117.3 L487.4 117.3 L489.5 117.4 L491.5 117.4 L493.6 117.4 L495.7 117.5 L497.7 117.5 L499.8 117.6 L501.8 117.7 L503.9 117.7 L506 117.8 L508 117.9 L510.1 118 L512.2 118 L514.2 118.1 L516.3 118.2 L518.4 118.4 L520.4 118.5 L522.5 118.6 L524.5 118.7 L526.6 118.9 L528.7 119.1 L530.7 119.2 L532.8 119.4 L534.9 119.6 L536.9 119.9 L539 120.1 L541.1 120.3 L543.1 120.6 L545.2 120.9 L547.3 121.2 L549.3 121.6 L551.4 122 L553.4 122.4 L555.5 122.8 L557.6 123.3 L559.6 123.8 L561.7 124.3 L563.8 124.9 L565.8 125.5 L567.9 126.2 L570 126.9 L572 127.7 L574.1 128.5 L576.1 129.4 L578.2 130.3 L580.3 131.4 L582.3 132.5 L584.4 133.6 L586.5 134.9 L588.5 136.3 L590.6 137.7 L592.7 139.3 L594.7 140.9 L596.8 142.7 L598.9 144.6 L600.9 146.6 L603 148.7 L605 151 L607.1 153.4 L609.2 156 L611.2 158.8 L613.3 161.7 L615.4 164.7 L617.4 168 L619.5 171.4 L621.6 175.1 L623.6 178.9 L625.7 182.9 L627.7 187.2 L629.8 191.6 L631.9 196.3 L633.9 201.2 L636 206.3 L638.1 211.6 L640.1 217.2 L642.2 222.9 L644.3 229 L646.3 235.2 L648.4 241.7 L650.5 248.4 L652.5 255.3 L654.6 262.5 L656.6 269.8 L658.7 277.4 L660.8 285.2 L662.8 293.2 L664.9 301.4 L667 309.8 L669 318.4 L671.1 327.1 L673.2 336.1 L675.2 345.2 L677.3 354.4 L679.3 363.9 L681.4 373.4 L683.5 383.1 L685.5 393 L687.6 403 L689.7 413.1 L691.7 423.3 L693.8 433.6 L695.9 444.1" stroke="#00f" stroke-width="2" fill="none" clip-path="url(#c)"/>
<rect x="148.9" y="41.4" width="619.2" height="394" fill="none" stroke="#000" stroke-width="1.5"/>
<path d="M468.5 240.1H558.6 M468.5 236.4V243.79999999999998 M558.6 236.4V243.79999999999998" stroke="#f00" stroke-width="0.9" fill="none"/>
<rect x="506" y="232.8" width="14.5" height="14.5" fill="#f00"/>
<path d="M468.5 274.9H558.6 M468.5 271.2V278.59999999999997 M558.6 271.2V278.59999999999997" stroke="#00f" stroke-width="0.9" fill="none"/>
<circle cx="513.3" cy="274.9" r="6.9" fill="none" stroke="#00f" stroke-width="1"/>
<path d="M468.5 309.2H558.6" stroke="#f00" stroke-width="2"/>
<path d="M468.5 343.5H558.6" stroke="#00f" stroke-width="2"/>
<text x="127.4" y="56.8" font-size="34.5" text-anchor="end">10<tspan font-size="27.6" dy="-17.6">0</tspan></text>
<text x="127.4" y="135.6" font-size="34.5" text-anchor="end">10<tspan font-size="27.6" dy="-17.6">-1</tspan></text>
<text x="127.4" y="214.4" font-size="34.5" text-anchor="end">10<tspan font-size="27.6" dy="-17.6">-2</tspan></text>
<text x="127.4" y="293.2" font-size="34.5" text-anchor="end">10<tspan font-size="27.6" dy="-17.6">-3</tspan></text>
<text x="127.4" y="372" font-size="34.5" text-anchor="end">10<tspan font-size="27.6" dy="-17.6">-4</tspan></text>
<text x="127.4" y="450.8" font-size="34.5" text-anchor="end">10<tspan font-size="27.6" dy="-17.6">-5</tspan></text>
<text x="148.9" y="485.4" font-size="34.5" text-anchor="middle">10<tspan font-size="27.6" dy="-17.6">-3</tspan></text>
<text x="272.7" y="485.4" font-size="34.5" text-anchor="middle">10<tspan font-size="27.6" dy="-17.6">-2</tspan></text>
<text x="396.6" y="485.4" font-size="34.5" text-anchor="middle">10<tspan font-size="27.6" dy="-17.6">-1</tspan></text>
<text x="520.4" y="485.4" font-size="34.5" text-anchor="middle">10<tspan font-size="27.6" dy="-17.6">0</tspan></text>
<text x="644.3" y="485.4" font-size="34.5" text-anchor="middle">10<tspan font-size="27.6" dy="-17.6">1</tspan></text>
<text x="768.1" y="485.4" font-size="34.5" text-anchor="middle">10<tspan font-size="27.6" dy="-17.6">2</tspan></text>
<text transform="translate(39,238) rotate(-90)" font-size="34.5" text-anchor="middle">PDF</text>
<text x="424.5" y="530.2" font-size="31">|</text>
<text x="441.6" y="530.2" font-size="37.5" class="s" textLength="20.6" lengthAdjust="spacingAndGlyphs">υ</text>
<text x="461.6" y="540.2" font-size="26.5">x</text>
<text x="483.9" y="530.2" font-size="31">|</text>
<text x="223" y="255" font-size="34.5" class="s">Δ</text>
<text x="245.6" y="255" font-size="34.5" class="s">γ</text>
<text x="268.5" y="257.7" font-size="34.5">=</text>
<text x="297.7" y="255" font-size="34.5">7.3</text>
<text x="354.5" y="257.8" font-size="37">×</text>
<text x="385.6" y="255" font-size="34.5">10</text>
<text x="422.8" y="237.4" font-size="27.6">-</text>
<text x="431" y="237.4" font-size="27.6">4</text>
<text x="332.2" y="286.1" font-size="34.5" class="s">Δ</text>
<text x="354.9" y="286.1" font-size="34.5" class="s">γ</text>
<text x="375.3" y="288.8" font-size="36.5" class="s" textLength="22" lengthAdjust="spacingAndGlyphs">=</text>
<text x="403.5" y="286.1" font-size="34.5" class="s">0.1</text>
<text x="167.2" y="320.5" font-size="34.5">fitted with q <tspan dy="2.6">=</tspan><tspan dy="-2.6"> 1.53</tspan></text>
<text x="167.2" y="354.6" font-size="34.5">fitted with q <tspan dy="2.6">=</tspan><tspan dy="-2.6"> 1.22</tspan></text>
</svg></body></html>
